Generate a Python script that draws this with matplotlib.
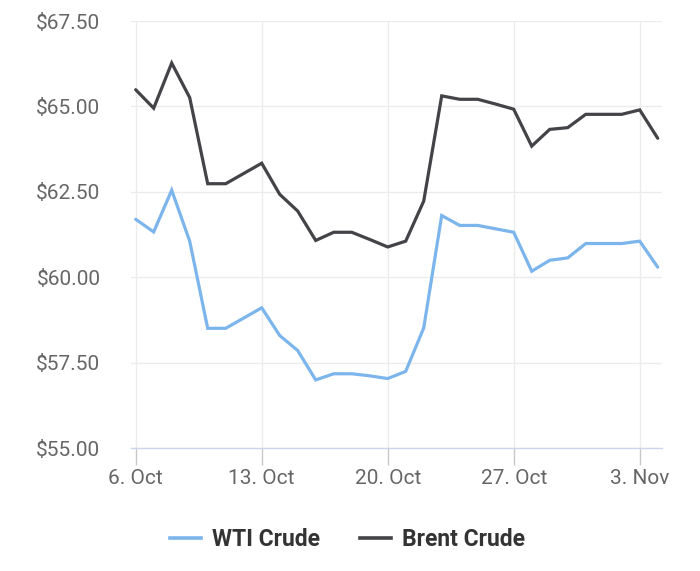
import numpy as np
import pandas as pd
import matplotlib.pyplot as plt
from matplotlib.lines import Line2D

plt.rcParams['font.family'] = ['Roboto', 'DejaVu Sans']

# daily prices, 6 Oct - 4 Nov
dates = pd.date_range('2014-10-06', '2014-11-04', freq='D')
wti = [61.70, 61.33, 62.55, 61.06, 58.51, 58.51, 58.81, 59.11, 58.30, 57.86,
       57.00, 57.18, 57.18, 57.12, 57.04, 57.25, 58.52, 61.81, 61.52, 61.52,
       61.42, 61.32, 60.18, 60.50, 60.57, 60.99, 60.99, 60.99, 61.06, 60.30]
brent = [65.49, 64.95, 66.27, 65.26, 62.74, 62.74, 63.04, 63.34, 62.43, 61.94,
         61.08, 61.32, 61.32, 61.11, 60.89, 61.06, 62.23, 65.31, 65.21, 65.21,
         65.07, 64.92, 63.84, 64.33, 64.38, 64.77, 64.77, 64.77, 64.90, 64.07]

tick_dates = pd.to_datetime(['2014-10-06', '2014-10-13', '2014-10-20', '2014-10-27', '2014-11-03'])
tick_labels = ['6. Oct', '13. Oct', '20. Oct', '27. Oct', '3. Nov']
y_ticks = [55, 57.5, 60, 62.5, 65, 67.5]

blue = '#7cb5ec'
dark = '#434348'

fig = plt.figure(figsize=(7, 5.71), dpi=100)
ax = fig.add_axes([0.1871, 0.2149, 0.7586, 0.7483])

ax.plot(dates, wti, color=blue, lw=2.3, solid_capstyle='round', solid_joinstyle='miter', zorder=3)
ax.plot(dates, brent, color=dark, lw=2.3, solid_capstyle='round', solid_joinstyle='miter', zorder=3)

ax.set_ylim(55, 67.5)
ax.set_xlim(dates[0] - pd.Timedelta(hours=6.3), dates[-1] + pd.Timedelta(hours=5.7))
ax.set_yticks(y_ticks)
ax.set_yticklabels(['${:.2f}'.format(v) for v in y_ticks])
ax.set_xticks(tick_dates)
ax.set_xticklabels(tick_labels)

ax.grid(True, color='#ececec', lw=1.0, zorder=0)
for s in ['top', 'right', 'left']:
    ax.spines[s].set_visible(False)
ax.spines['bottom'].set_color('#ccd6eb')
ax.spines['bottom'].set_linewidth(1.0)

ax.tick_params(axis='y', length=0, pad=22, labelsize=15, labelcolor='#666666')
ax.tick_params(axis='x', length=12, width=1.0, color='#c8c8c8', pad=3,
               labelsize=15, labelcolor='#666666')

handles = [Line2D([0], [0], color=blue, lw=2.6),
           Line2D([0], [0], color=dark, lw=2.6)]
leg = fig.legend(handles, ['WTI Crude', 'Brent Crude'], loc='center',
                 bbox_to_anchor=(0.4964, 0.0543), ncol=2, frameon=False,
                 handlelength=1.35, handletextpad=0.48, columnspacing=1.75,
                 prop={'size': 16.5, 'weight': 'bold'})
for t in leg.get_texts():
    t.set_color('#333333')

fig.savefig('out.png', dpi=100)
